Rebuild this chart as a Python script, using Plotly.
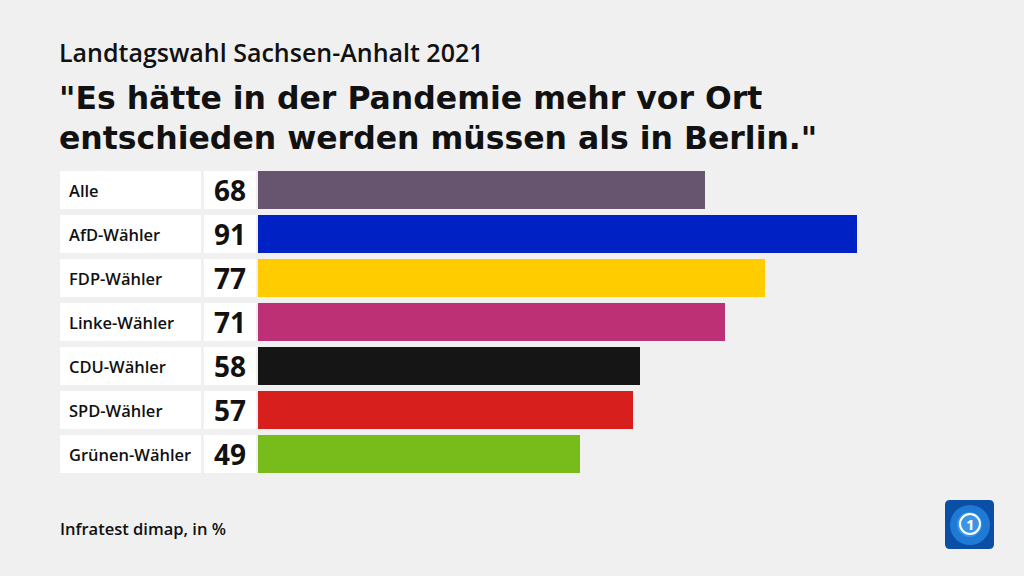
import plotly.graph_objects as go

categories = ["Alle", "AfD-Wähler", "FDP-Wähler", "Linke-Wähler", "CDU-Wähler", "SPD-Wähler", "Grünen-Wähler"]
values = [68, 91, 77, 71, 58, 57, 49]
colors = ["#67546f", "#0021c4", "#ffcc00", "#be3075", "#151515", "#d71f1d", "#78bc1b"]

subtitle = "Landtagswahl Sachsen-Anhalt 2021"
title_lines = ["\"Es hätte in der Pandemie mehr vor Ort", "entschieden werden müssen als in Berlin.\""]
source = "Infratest dimap, in %"

W, H = 1024, 576
FONT = "Open Sans"
TITLE_FONT = "DejaVu Sans"

def px_x(p):
    return p / W

def px_y(p):
    return 1 - p / H

rows = list(range(len(categories)))

fig = go.Figure()
fig.add_trace(go.Bar(
    x=values, y=rows, orientation="h",
    marker=dict(color=colors, line=dict(width=0)),
    width=38 / 44, hoverinfo="skip", showlegend=False,
))

row_top, row_h = 168, 44
n = len(categories)
fig.update_layout(
    width=W, height=H,
    margin=dict(l=0, r=0, t=0, b=0),
    paper_bgcolor="#f0f0f0", plot_bgcolor="rgba(0,0,0,0)",
    xaxis=dict(domain=[px_x(258), px_x(916)], range=[0, 100], visible=False, fixedrange=True),
    yaxis=dict(domain=[px_y(row_top + n * row_h), px_y(row_top)], range=[n - 0.5, -0.5],
               visible=False, fixedrange=True),
    bargap=0,
)

shapes = []
annotations = []
half = 19 / 44
for i, (cat, v) in enumerate(zip(categories, values)):
    shapes.append(dict(type="rect", xref="paper", yref="y", x0=px_x(60), x1=px_x(201),
                       y0=i - half, y1=i + half, fillcolor="white", line=dict(width=0), layer="below"))
    shapes.append(dict(type="rect", xref="paper", yref="y", x0=px_x(204), x1=px_x(256),
                       y0=i - half, y1=i + half, fillcolor="white", line=dict(width=0), layer="below"))
    annotations.append(dict(text=cat, xref="paper", yref="y", x=px_x(67), y=i, xanchor="left",
                            yanchor="middle", showarrow=False,
                            font=dict(family=FONT, size=16.5, color="#111", weight=600)))
    annotations.append(dict(text=str(v), xref="paper", yref="y", x=px_x(248), y=i, xanchor="right",
                            yanchor="middle", showarrow=False,
                            font=dict(family=FONT, size=28, color="#111", weight=700)))

annotations.append(dict(text=subtitle, xref="paper", yref="paper", x=px_x(57), y=px_y(52),
                        xanchor="left", yanchor="middle", showarrow=False,
                        font=dict(family=FONT, size=25, color="#111", weight=600)))
title_text = "<br>".join(f"<span style='font-size:31.5px'>{t}</span>" for t in title_lines)
annotations.append(dict(text=title_text, xref="paper", yref="paper", x=px_x(57), y=px_y(118),
                        xanchor="left", yanchor="middle", showarrow=False, align="left",
                        font=dict(family=TITLE_FONT, size=31, color="#111", weight=700)))
annotations.append(dict(text=source, xref="paper", yref="paper", x=px_x(58), y=px_y(528),
                        xanchor="left", yanchor="middle", showarrow=False,
                        font=dict(family=FONT, size=16.5, color="#111", weight=600)))

# logo
lx0, ly0, lx1, ly1, r = 945, 500, 994, 549, 5
path = (f"M {px_x(lx0+r)} {px_y(ly0)} L {px_x(lx1-r)} {px_y(ly0)} Q {px_x(lx1)} {px_y(ly0)} {px_x(lx1)} {px_y(ly0+r)} "
        f"L {px_x(lx1)} {px_y(ly1-r)} Q {px_x(lx1)} {px_y(ly1)} {px_x(lx1-r)} {px_y(ly1)} "
        f"L {px_x(lx0+r)} {px_y(ly1)} Q {px_x(lx0)} {px_y(ly1)} {px_x(lx0)} {px_y(ly1-r)} "
        f"L {px_x(lx0)} {px_y(ly0+r)} Q {px_x(lx0)} {px_y(ly0)} {px_x(lx0+r)} {px_y(ly0)} Z")
shapes.append(dict(type="path", xref="paper", yref="paper", path=path, fillcolor="#0b4ea6", line=dict(width=0)))
shapes.append(dict(type="circle", xref="paper", yref="paper", x0=px_x(950), x1=px_x(990), y0=px_y(545), y1=px_y(505),
                   fillcolor="#1f7ad6", line=dict(width=0)))
shapes.append(dict(type="circle", xref="paper", yref="paper", x0=px_x(957), x1=px_x(982), y0=px_y(537), y1=px_y(512),
                   fillcolor="#3a95e6", line=dict(width=0)))
shapes.append(dict(type="circle", xref="paper", yref="paper", x0=px_x(960), x1=px_x(980), y0=px_y(534), y1=px_y(514),
                   fillcolor="rgba(0,0,0,0)", line=dict(width=2, color="white")))
annotations.append(dict(text="1", xref="paper", yref="paper", x=px_x(970), y=px_y(524), xanchor="center",
                        yanchor="middle", showarrow=False,
                        font=dict(family=FONT, size=15, color="white", weight=700)))

fig.update_layout(shapes=shapes, annotations=annotations)
fig.write_html("out.html", config={"displayModeBar": False},
               post_script="document.body.style.margin='0';document.body.style.overflow='hidden';")
